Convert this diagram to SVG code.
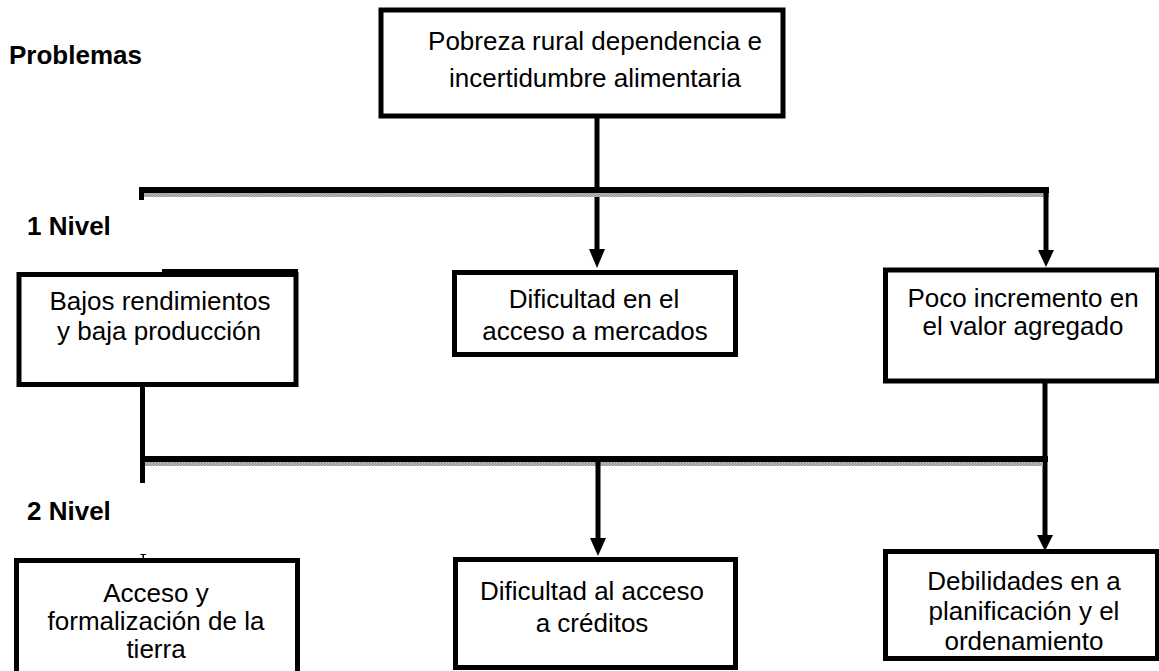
<svg xmlns="http://www.w3.org/2000/svg" width="1159" height="671" viewBox="0 0 1159 671">
<style>
.box{fill:#fff;stroke:#000;stroke-width:5}
.t{font-family:"Liberation Sans",Arial,sans-serif;font-size:26px;fill:#000;text-anchor:middle}
.lbl{font-family:"Liberation Sans",Arial,sans-serif;font-size:26px;font-weight:bold;fill:#000}
.blk{fill:#000}
</style>
<defs>
<pattern id="dots" width="3" height="3" patternUnits="userSpaceOnUse">
<rect width="3" height="3" fill="#c8c8c8"/>
<rect width="1.5" height="1.5" fill="#8a8a8a"/>
<rect x="1.5" y="1.5" width="1.5" height="1.5" fill="#8a8a8a"/>
</pattern>
</defs>
<rect width="1159" height="671" fill="#fff"/>

<g id="labels">
<text class="lbl" x="9" y="64">Problemas</text>
<text class="lbl" x="27" y="235">1 Nivel</text>
<text class="lbl" x="27" y="520">2 Nivel</text>
</g>

<g id="connectors">
<rect class="blk" x="594.5" y="116" width="5" height="136"/>
<polygon class="blk" points="589,249 605,249 597,268"/>
<rect class="blk" x="139" y="187" width="910" height="6"/>
<rect x="144" y="193" width="905" height="4" fill="url(#dots)"/>
<rect class="blk" x="139" y="187" width="5" height="13"/>
<rect class="blk" x="1043.5" y="187" width="5" height="65"/>
<polygon class="blk" points="1038,250 1054,250 1046,267"/>
<rect class="blk" x="140" y="385" width="5" height="98"/>
<rect class="blk" x="1042.5" y="381" width="5" height="157"/>
<polygon class="blk" points="1037,535 1053,535 1045,551"/>
<rect class="blk" x="141" y="456" width="907" height="6"/>
<rect x="145" y="462" width="898" height="4" fill="url(#dots)"/>
<rect class="blk" x="595.5" y="456" width="5" height="84"/>
<polygon class="blk" points="590,538 606,538 598,556"/>
<rect class="blk" x="142.5" y="554" width="1.5" height="5"/>
<rect class="blk" x="140.5" y="554" width="5.5" height="1"/>
</g>

<g id="n0">
<rect class="box" x="381" y="10" width="402" height="106"/>
<text class="t" x="595" y="50">Pobreza rural dependencia e</text>
<text class="t" x="595" y="87">incertidumbre alimentaria</text>
</g>

<g id="n1">
<rect class="box" x="19" y="274.5" width="277" height="110"/>
<rect class="blk" x="162" y="269" width="136" height="5"/>
<text class="t" x="160" y="310">Bajos rendimientos</text>
<text class="t" x="159" y="340">y baja producción</text>
</g>

<g id="n2">
<rect class="box" x="454.5" y="272.5" width="281" height="82"/>
<text class="t" x="594" y="308">Dificultad en el</text>
<text class="t" x="595" y="340">acceso a mercados</text>
</g>

<g id="n3">
<rect class="box" x="885.5" y="270" width="272" height="111"/>
<text class="t" x="1023" y="307">Poco incremento en</text>
<text class="t" x="1023" y="335">el valor agregado</text>
</g>

<g id="n4">
<rect class="box" x="16.5" y="560.5" width="281" height="120"/>
<text class="t" x="156" y="602">Acceso y</text>
<text class="t" x="156" y="630">formalización de la</text>
<text class="t" x="156" y="658">tierra</text>
</g>

<g id="n5">
<rect class="box" x="455.5" y="559.5" width="280" height="108"/>
<text class="t" x="592" y="600">Dificultad al acceso</text>
<text class="t" x="592" y="632">a créditos</text>
</g>

<g id="n6">
<rect class="box" x="885.5" y="551.5" width="272" height="107"/>
<text class="t" x="1024" y="590">Debilidades en a</text>
<text class="t" x="1024" y="620">planificación y el</text>
<text class="t" x="1024" y="650">ordenamiento</text>
</g>
</svg>
